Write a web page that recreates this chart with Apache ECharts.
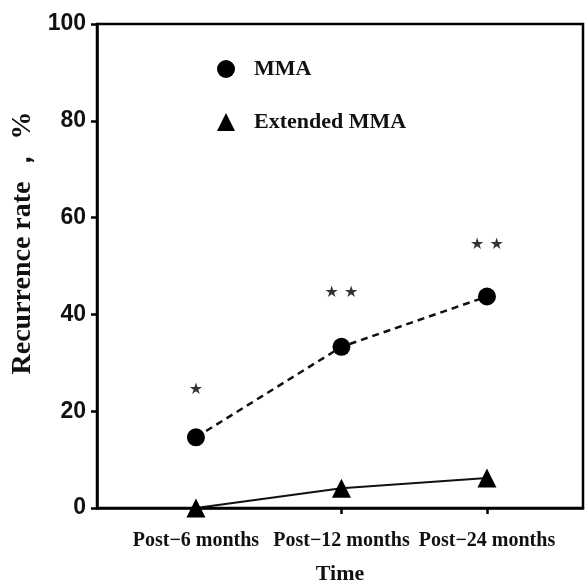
<!DOCTYPE html>
<html>
<head>
<meta charset="utf-8">
<script src="https://cdn.jsdelivr.net/npm/echarts@6/dist/echarts.min.js"></script>
<style>
  html, body { margin: 0; padding: 0; background: #fff; }
  #chart { width: 585px; height: 581px; }
</style>
</head>
<body>
<div id="chart"></div>
<script>
// categories on the x axis
const categories = ['Post\u22126 months', 'Post\u221212 months', 'Post\u221224 months']
// recurrence rate, %
const mmaValues = [14.6, 33.3, 43.7]
const extendedValues = [0, 4.1, 6.2]
// significance marks above each time point
const sigMarks = ['\u2605', '\u2605 \u2605', '\u2605 \u2605']
const sigHeights = [24.4, 44.4, 54.3]
const yTicks = [0, 20, 40, 60, 80, 100]

const serif = '"Liberation Serif", "Times New Roman", serif'
const sans = '"Liberation Sans", Arial, sans-serif'

const chart = echarts.init(document.getElementById('chart'))

const option = {
    backgroundColor: '#fff',
    animation: false,
    grid: {
        left: 97,
        right: 2,
        top: 24,
        bottom: 73,
        containLabel: false,
        outerBoundsMode: 'none',
        show: true,
        borderColor: '#000',
        borderWidth: 2.5
    },
    legend: {
        orient: 'vertical',
        left: 212,
        top: 53,
        itemWidth: 18,
        itemHeight: 18,
        itemGap: 31,
        data: [
            { name: 'MMA', icon: 'circle' },
            { name: 'Extended MMA', icon: 'triangle' }
        ],
        textStyle: {
            fontFamily: serif,
            fontWeight: 'bold',
            fontSize: 22,
            color: '#111',
            padding: [0, 0, 0, 14]
        }
    },
    xAxis: {
        type: 'value',
        min: -0.68,
        max: 2.66,
        name: 'Time',
        nameLocation: 'middle',
        nameGap: 55,
        nameTextStyle: {
            fontFamily: serif,
            fontWeight: 'bold',
            fontSize: 22,
            color: '#111'
        },
        axisLine: { show: true, onZero: false, lineStyle: { color: '#000', width: 2.5 } },
        axisTick: {
            show: true,
            customValues: [0, 1, 2],
            length: 6,
            lineStyle: { color: '#000', width: 2.5 }
        },
        axisLabel: {
            customValues: [0, 1, 2],
            formatter: v => categories[Math.round(v)] || '',
            fontFamily: serif,
            fontWeight: 'bold',
            fontSize: 20,
            color: '#111',
            margin: 23
        },
        splitLine: { show: false }
    },
    yAxis: {
        type: 'value',
        min: 0,
        max: 100,
        interval: 20,
        name: 'Recurrence rate \uFF0C %',
        nameLocation: 'middle',
        nameGap: 55,
        nameTextStyle: {
            fontFamily: serif,
            fontWeight: 'bold',
            fontSize: 28,
            color: '#111',
            padding: [0, 0, 0, 46]
        },
        axisLine: { show: true, onZero: false, lineStyle: { color: '#000', width: 2.5 } },
        axisTick: { show: true, length: 6, lineStyle: { color: '#000', width: 2.5 } },
        axisLabel: {
            formatter: v => (yTicks.includes(v) ? String(v) : ''),
            fontFamily: sans,
            fontWeight: 'bold',
            fontSize: 23,
            color: '#111',
            margin: 11
        },
        splitLine: { show: false }
    },
    series: [
        {
            name: 'MMA',
            type: 'line',
            data: mmaValues.map((v, i) => [i, v]),
            symbol: 'circle',
            symbolSize: 18,
            itemStyle: { color: '#000' },
            lineStyle: { color: '#111', width: 2.5, type: [7, 5] },
            z: 3
        },
        {
            name: 'Extended MMA',
            type: 'line',
            data: extendedValues.map((v, i) => [i, v]),
            symbol: 'triangle',
            symbolSize: 19,
            itemStyle: { color: '#000' },
            lineStyle: { color: '#111', width: 2 },
            z: 3
        },
        {
            name: 'sig',
            type: 'scatter',
            data: sigHeights.map((v, i) => [i, v, sigMarks[i]]),
            symbolSize: 0,
            silent: true,
            label: {
                show: true,
                position: 'inside',
                formatter: p => p.data[2],
                fontFamily: '"DejaVu Sans", sans-serif',
                fontSize: 16,
                color: '#000'
            }
        }
    ]
}

chart.setOption(option)

window.addEventListener('resize', () => {
    chart.resize()
})
</script>
</body>
</html>
